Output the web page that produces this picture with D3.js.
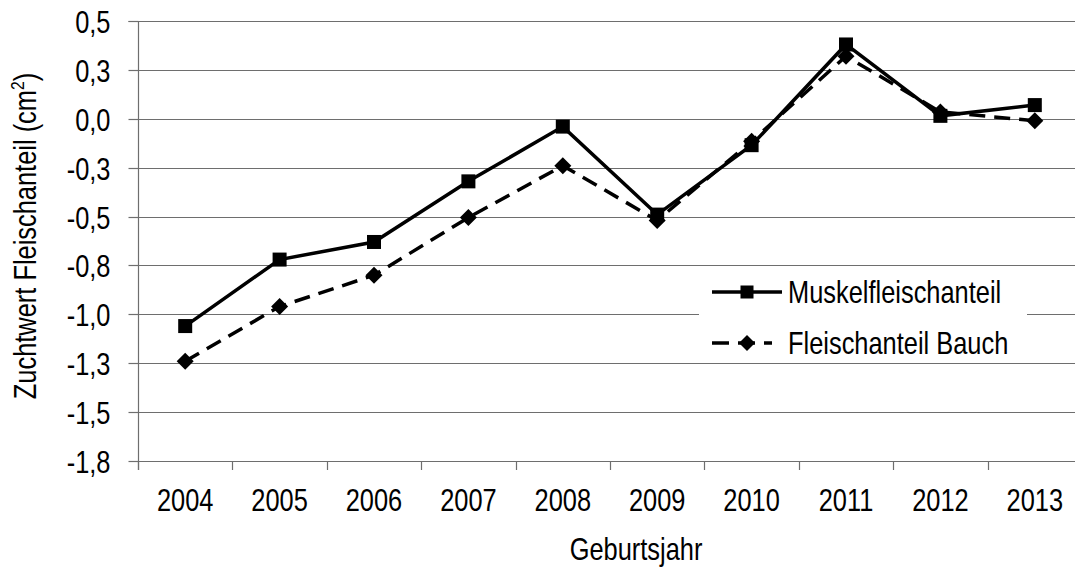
<!DOCTYPE html>
<html>
<head>
<meta charset="utf-8">
<script src="https://cdn.jsdelivr.net/npm/d3@7"></script>
<style>
  html, body { margin: 0; padding: 0; background: #fff; }
  svg text { font-family: "Liberation Sans", Arial, sans-serif; fill: #000; }
</style>
</head>
<body>
<svg id="chart" width="1075" height="570"></svg>
<script>
const years = ["2004","2005","2006","2007","2008","2009","2010","2011","2012","2013"];
const muskel = [-1.06, -0.72, -0.63, -0.32, -0.04, -0.49, -0.135, 0.38, 0.015, 0.07];
const bauch  = [-1.24, -0.96, -0.80, -0.505, -0.24, -0.52, -0.115, 0.32, 0.035, -0.01];
const seriesNames = ["Muskelfleischanteil", "Fleischanteil Bauch"];
const yTickValues = [0.5, 0.25, 0, -0.25, -0.5, -0.75, -1.0, -1.25, -1.5, -1.75];
const yTitle = "Zuchtwert Fleischanteil (cm";
const xTitle = "Geburtsjahr";

const svg = d3.select("#chart");
const L = 138, R = 1082, T = 21, B = 461;
const FS = 31, SX = 0.82;
const GRID = "#6e6e6e";

const x = d3.scaleBand().domain(years).range([L, R]);
const y = d3.scaleLinear().domain([-1.75, 0.5]).range([B, T]);
const fmt = v => v.toFixed(1).replace(".", ",");
const py = v => Math.round(y(v)) + 0.5;

function ntext(parent, tx, ty, str, anchor, extra) {
  return parent.append("text")
    .attr("transform", `translate(${tx},${ty})${extra || ""} scale(${SX},1)`)
    .attr("text-anchor", anchor).attr("font-size", FS).text(str);
}

// gridlines
svg.append("g").selectAll("line").data(yTickValues).join("line")
  .attr("x1", L).attr("x2", R).attr("y1", py).attr("y2", py)
  .attr("stroke", GRID).attr("stroke-width", 1.2);

// y axis
const yAxis = d3.axisLeft(y).tickValues(yTickValues).tickFormat(fmt).tickSize(10);
const gy = svg.append("g").attr("transform", `translate(${L + 0.5},0)`).call(yAxis);
gy.select(".domain").attr("stroke", GRID).attr("stroke-width", 1.2).attr("d", `M-10,${T + 0.5}H0V${B + 9}`);
gy.selectAll(".tick").attr("transform", d => `translate(0,${py(d)})`);
gy.selectAll(".tick line").attr("stroke", GRID).attr("stroke-width", 1.2);
gy.selectAll(".tick text")
  .attr("x", null).attr("dy", "0.36em").attr("font-size", FS).attr("font-family", null).attr("fill", "#000")
  .attr("transform", `translate(-28,0) scale(${SX},1)`);

// x axis
const xAxis = d3.axisBottom(x).tickSize(0);
const gx = svg.append("g").attr("transform", `translate(0,${B + 0.5})`).call(xAxis);
gx.select(".domain").attr("stroke", GRID).attr("stroke-width", 1.2).attr("d", `M${L},0H${R}`);
gx.selectAll(".tick text")
  .attr("y", null).attr("dy", null).attr("font-size", FS).attr("font-family", null).attr("fill", "#000")
  .attr("transform", `translate(0,49) scale(${SX},1)`);
svg.append("g").selectAll("line").data(years).join("line")
  .attr("x1", d => Math.round(x(d)) + 0.5).attr("x2", d => Math.round(x(d)) + 0.5)
  .attr("y1", B).attr("y2", B + 9)
  .attr("stroke", GRID).attr("stroke-width", 1.2);

// axis titles
ntext(svg, 636, 560, xTitle, "middle");
const yt = svg.append("text")
  .attr("transform", `translate(36,236) rotate(-90) scale(${SX},1)`)
  .attr("text-anchor", "middle").attr("font-size", FS);
yt.append("tspan").text(yTitle);
yt.append("tspan").attr("font-size", FS * 0.62).attr("dy", -12).text("2");
yt.append("tspan").attr("dy", 12).text(")");

const cx = (d, i) => x(years[i]) + x.bandwidth() / 2;
const line = d3.line().x((d, i) => cx(d, i)).y(d => y(d));
const diamond = s => `M0,${-s}L${s},0L0,${s}L${-s},0Z`;

// series Bauch (dashed, diamonds)
svg.append("path").datum(bauch).attr("d", line).attr("fill", "none")
  .attr("stroke", "#000").attr("stroke-width", 3.5).attr("stroke-dasharray", "16,9");
svg.append("g").selectAll("path").data(bauch).join("path")
  .attr("transform", (d, i) => `translate(${cx(d, i)},${y(d)})`)
  .attr("d", diamond(8.5)).attr("fill", "#000");

// series Muskel (solid, squares)
svg.append("path").datum(muskel).attr("d", line).attr("fill", "none")
  .attr("stroke", "#000").attr("stroke-width", 3.5);
svg.append("g").selectAll("rect").data(muskel).join("rect")
  .attr("x", (d, i) => cx(d, i) - 7).attr("y", d => y(d) - 7)
  .attr("width", 14).attr("height", 14).attr("fill", "#000");

// legend
const lg = svg.append("g");
lg.append("rect").attr("x", 699).attr("y", 266).attr("width", 328).attr("height", 96).attr("fill", "#fff");
const rows = [292, 343];
lg.append("line").attr("x1", 712).attr("x2", 782).attr("y1", rows[0]).attr("y2", rows[0])
  .attr("stroke", "#000").attr("stroke-width", 3.5);
lg.append("rect").attr("x", 747 - 6.5).attr("y", rows[0] - 6.5).attr("width", 13).attr("height", 13).attr("fill", "#000");
ntext(lg, 788, rows[0] + 11, seriesNames[0], "start");
lg.append("line").attr("x1", 712).attr("x2", 772).attr("y1", rows[1]).attr("y2", rows[1])
  .attr("stroke", "#000").attr("stroke-width", 3.5).attr("stroke-dasharray", "17,9");
lg.append("path").attr("transform", `translate(747,${rows[1]})`).attr("d", diamond(8)).attr("fill", "#000");
ntext(lg, 788, rows[1] + 11, seriesNames[1], "start");
</script>
</body>
</html>
